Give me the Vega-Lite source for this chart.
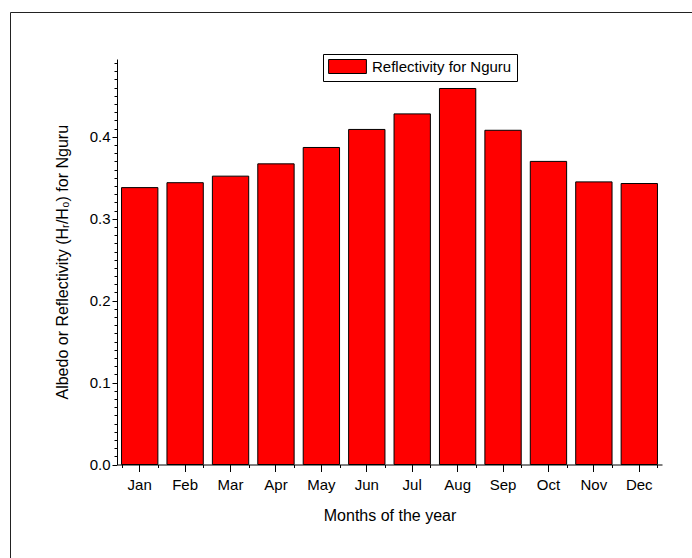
{
  "$schema": "https://vega.github.io/schema/vega-lite/v6.json",
  "autosize": {"type": "none"},
  "padding": {"left": 10, "top": 12, "right": 0, "bottom": 0},
  "width": 682,
  "height": 546,
  "background": "white",
  "config": {
    "font": "Liberation Sans",
    "view": {"stroke": null},
    "axis": {
      "grid": false,
      "domainColor": "#000",
      "domainWidth": 1,
      "tickColor": "#000",
      "tickWidth": 1,
      "labelColor": "#000",
      "titleColor": "#000",
      "labelFont": "Liberation Sans",
      "titleFont": "Liberation Sans",
      "titleFontWeight": "normal",
      "labelFontSize": 15,
      "titleFontSize": 16
    }
  },
  "data": {
    "values": [
      {"month": "Jan", "reflectivity": 0.338},
      {"month": "Feb", "reflectivity": 0.344},
      {"month": "Mar", "reflectivity": 0.352},
      {"month": "Apr", "reflectivity": 0.367},
      {"month": "May", "reflectivity": 0.387},
      {"month": "Jun", "reflectivity": 0.409},
      {"month": "Jul", "reflectivity": 0.428},
      {"month": "Aug", "reflectivity": 0.459},
      {"month": "Sep", "reflectivity": 0.408},
      {"month": "Oct", "reflectivity": 0.370},
      {"month": "Nov", "reflectivity": 0.345},
      {"month": "Dec", "reflectivity": 0.343}
    ]
  },
  "layer": [
    {
      "mark": {"type": "bar", "stroke": "#000", "strokeWidth": 1},
      "encoding": {
        "x": {
          "field": "month",
          "type": "ordinal",
          "sort": null,
          "scale": {"range": [107, 652], "paddingInner": 0.2, "paddingOuter": 0.1},
          "axis": {
            "orient": "bottom",
            "offset": -93.5,
            "tickSize": 7,
            "labelPadding": 6,
            "labelAngle": 0,
            "title": "Months of the year",
            "titlePadding": 15
          }
        },
        "y": {
          "field": "reflectivity",
          "type": "quantitative",
          "scale": {"domain": [0, 0.495], "range": [452.5, 47], "nice": false},
          "axis": {
            "orient": "left",
            "offset": -107,
            "values": [0, 0.1, 0.2, 0.3, 0.4],
            "format": ".1f",
            "tickSize": 5,
            "labelPadding": 2,
            "title": "Albedo or Reflectivity (Hᵣ/H₀) for Nguru",
            "titlePadding": 19
          }
        },
        "color": {
          "datum": "Reflectivity for Nguru",
          "type": "nominal",
          "scale": {"range": ["#ff0000"]},
          "legend": {
            "orient": "none",
            "legendX": 313,
            "legendY": 42,
            "title": null,
            "strokeColor": "#000",
            "fillColor": "white",
            "padding": 5,
            "labelFontSize": 15,
            "labelColor": "#000",
            "labelFont": "Liberation Sans",
            "symbolOffset": 12,
            "labelOffset": 17,
            "symbolType": "M-2.7,-1H2.7V1H-2.7Z",
            "symbolSize": 196,
            "symbolStrokeColor": "#000",
            "symbolStrokeWidth": 1,
            "symbolOpacity": 1
          }
        }
      }
    },
    {
      "mark": {"type": "bar", "opacity": 0},
      "encoding": {
        "x": {
          "field": "month",
          "type": "ordinal",
          "sort": null,
          "scale": {"range": [107, 652], "paddingInner": 0.2, "paddingOuter": 0.1},
          "axis": {
            "orient": "bottom",
            "offset": -93.5,
            "tickBand": "extent",
            "tickSize": 3,
            "labels": false,
            "domain": false,
            "title": null
          }
        },
        "y": {
          "field": "reflectivity",
          "type": "quantitative",
          "scale": {"domain": [0, 0.495], "range": [452.5, 47], "nice": false},
          "axis": {
            "orient": "left",
            "offset": -107,
            "values": [0.01, 0.02, 0.03, 0.04, 0.05, 0.06, 0.07, 0.08, 0.09,
                       0.11, 0.12, 0.13, 0.14, 0.15, 0.16, 0.17, 0.18, 0.19,
                       0.21, 0.22, 0.23, 0.24, 0.25, 0.26, 0.27, 0.28, 0.29,
                       0.31, 0.32, 0.33, 0.34, 0.35, 0.36, 0.37, 0.38, 0.39,
                       0.41, 0.42, 0.43, 0.44, 0.45, 0.46, 0.47, 0.48, 0.49],
            "tickSize": 3,
            "labels": false,
            "domain": false,
            "title": null
          }
        }
      }
    },
    {
      "description": "page frame: left and top edges drawn as bare axis lines",
      "mark": {"type": "bar", "opacity": 0},
      "encoding": {
        "x": {
          "field": "month",
          "type": "ordinal",
          "sort": null,
          "scale": {"range": [0, 682]},
          "axis": {
            "orient": "top",
            "offset": 0,
            "labels": false,
            "ticks": false,
            "title": null,
            "domainColor": "#222"
          }
        },
        "y": {
          "field": "reflectivity",
          "type": "quantitative",
          "scale": {"domain": [0, 0.495], "range": [546, 0], "nice": false},
          "axis": {
            "orient": "left",
            "offset": 0,
            "labels": false,
            "ticks": false,
            "title": null,
            "domainColor": "#222"
          }
        }
      }
    }
  ],
  "resolve": {
    "scale": {"x": "independent", "y": "independent"},
    "axis": {"x": "independent", "y": "independent"}
  }
}
